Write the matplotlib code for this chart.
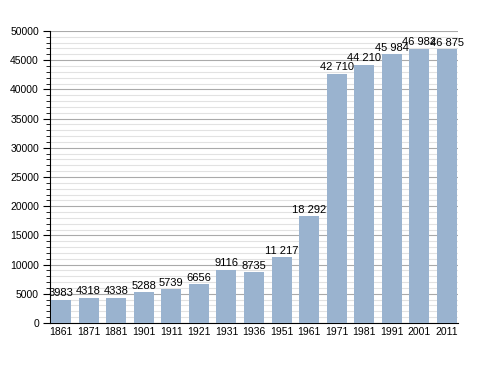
import matplotlib.pyplot as plt
from matplotlib.ticker import MultipleLocator

years = ['1861', '1871', '1881', '1901', '1911', '1921', '1931', '1936',
         '1951', '1961', '1971', '1981', '1991', '2001', '2011']
population = [3983, 4318, 4338, 5288, 5739, 6656, 9116, 8735,
              11217, 18292, 42710, 44210, 45984, 46982, 46875]
labels = ['3983', '4318', '4338', '5288', '5739', '6656', '9116', '8735',
          '11 217', '18 292', '42 710', '44 210', '45 984', '46 982', '46 875']

plt.rcParams['font.family'] = ['Liberation Sans', 'DejaVu Sans']

fig = plt.figure(figsize=(4.88, 3.73), dpi=100)
ax = fig.add_axes([0.1025, 0.134, 0.836, 0.783])

x = range(len(years))
ax.bar(x, population, width=0.73, color='#9ab3cf', zorder=3)
for i, (v, t) in enumerate(zip(population, labels)):
    ax.text(i, v + 250, t, ha='center', va='bottom', fontsize=8, zorder=4)

ax.set_xlim(-0.4, 14.4)
ax.set_ylim(0, 50000)
ax.set_xticks(list(x))
ax.set_xticklabels(years, fontsize=7.5)
ax.tick_params(axis='x', length=0, pad=3)
ax.yaxis.set_major_locator(MultipleLocator(5000))
ax.yaxis.set_minor_locator(MultipleLocator(1000))
ax.tick_params(axis='y', which='major', length=5, labelsize=7.5, pad=3)
ax.tick_params(axis='y', which='minor', length=3)
ax.grid(axis='y', which='major', color='#aaaaaa', linewidth=0.8, zorder=0)
ax.grid(axis='y', which='minor', color='#e2e2e2', linewidth=0.8, zorder=0)
for s in ['top', 'right']:
    ax.spines[s].set_visible(False)

fig.savefig('out.png')
